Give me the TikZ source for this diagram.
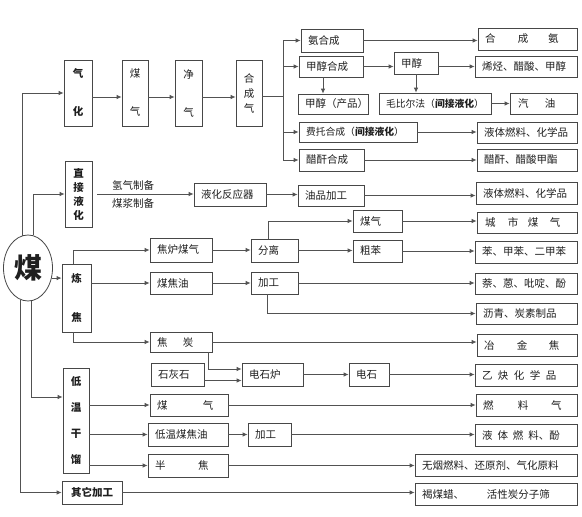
\documentclass[tikz,border=0pt]{standalone}
\usepackage{fontspec}
\setmainfont{Noto Sans CJK SC}
\usetikzlibrary{arrows.meta,shapes.geometric}
\newcommand\mybx[7][]{%
 \pgfmathsetmacro\bxw{#5-#3}%
 \pgfmathsetmacro\bxh{#6-#4}%
 \pgfmathsetmacro\bxt{#5-#3-14}%
 \pgfmathsetmacro\bxcx{(#3+#5)/2}%
 \pgfmathsetmacro\bxcy{(#4+#6)/2}%
 \node[box,minimum width=\bxw pt,minimum height=\bxh pt,#1] (#2) at (\bxcx,\bxcy) {\hbox to \bxt pt{#7\hss}};}
\newcommand\myvbx[7][]{%
 \pgfmathsetmacro\bxw{#5-#3}%
 \pgfmathsetmacro\bxh{#6-#4}%
 \pgfmathsetmacro\bxcx{(#3+#5)/2}%
 \pgfmathsetmacro\bxcy{(#4+#6)/2}%
 \node[box,align=center,minimum width=\bxw pt,minimum height=\bxh pt,#1] (#2) at (\bxcx,\bxcy) {#7};}
\begin{document}
\begin{tikzpicture}[x=1pt,y=-1pt,
  every node/.style={font=\fontsize{10.5}{13}\selectfont,text=black!88},
  box/.style={draw=black!72,line width=0.8pt,inner sep=0pt,fill=white},
  bf/.style={font=\fontsize{10.5}{13}\selectfont\bfseries},
  sm/.style={font=\fontsize{9.8}{12}\selectfont},
  ln/.style={draw=black!68,line width=0.8pt},
  arr/.style={ln,-{Latex[length=5pt,width=4.5pt]}}]
\fill[white] (0,0) rectangle (582,517);
\useasboundingbox (0,0) rectangle (582,517);

% coal
\node[ellipse,draw=black!72,line width=0.8pt,minimum width=49pt,minimum height=66pt,inner sep=0pt,
  font=\fontsize{28}{30}\selectfont\bfseries] (coal) at (28,268) {煤};

% gasification row
\myvbx[bf]{qh}{64}{60}{92}{126}{气\\[25pt]化}
\myvbx{mq}{122}{60}{148}{126}{煤\\[25pt]气}
\myvbx{jq}{175}{60}{202}{126}{净\\[25pt]气}
\myvbx{hcq}{236}{60}{262}{126}{合\\[2pt]成\\[2pt]气}

\mybx{ahc}{301}{29}{363}{52}{氨合成}
\mybx{hca}{478}{28}{577}{50}{合\hspace{22.5pt}成\hspace{19.5pt}氨}
\mybx{jchc}{299}{56}{363}{77}{甲醇合成}
\mybx{jc}{394}{52}{438}{74}{甲醇}
\mybx{xt}{475}{56}{577}{77}{烯烃、醋酸、甲醇}
\mybx{jccp}{298}{94}{368}{114}{甲醇（产品）}
\mybx[sm]{mbef}{379}{93}{491}{114}{毛比尔法（\textbf{间接液化}）}
\mybx{qy}{510}{93}{577}{114}{\hspace{1pt}汽\hspace{16.5pt}油}
\mybx[sm]{ft}{299}{122}{417}{142}{费托合成（\textbf{间接液化}）}
\mybx{ytrla}{477}{122}{577}{143}{液体燃料、化学品}
\mybx{cghc}{299}{149}{364}{171}{醋酐合成}
\mybx{cg}{477}{149}{577}{171}{醋酐、醋酸甲酯}

% direct liquefaction
\myvbx[bf]{zj}{65}{161}{92}{227}{直\\[1pt]接\\[1pt]液\\[1pt]化}
\node (qqzb) at (133,185) {氢气制备};
\node (mjzb) at (133,203) {煤浆制备};
\mybx{yhfy}{194}{183}{266}{206}{液化反应器}
\mybx{ypjg}{298}{185}{364}{206}{油品加工}
\mybx{ytrlb}{476}{182}{577}{204}{液体燃料、化学品}

% coking
\myvbx[bf]{lj}{62}{264}{91}{332}{炼\\[26pt]焦}
\mybx{jlmq}{150}{238}{212}{262}{焦炉煤气}
\mybx{mjy}{150}{272}{212}{294}{煤焦油}
\mybx{fl}{251}{239}{298}{262}{分离}
\mybx{jg}{251}{272}{298}{294}{加工}
\mybx{mqb}{353}{210}{402}{232}{煤气}
\mybx{cb}{353}{240}{402}{262}{粗苯}
\mybx{csmq}{477}{212}{577}{233}{\hspace{1pt}城\hspace{12.5pt}市\hspace{9.5pt}煤\hspace{11.5pt}气}
\mybx{benz}{475}{241}{577}{263}{苯、甲苯、二甲苯}
\mybx{naph}{475}{273}{577}{294}{萘、蒽、吡啶、酚}
\mybx{lq}{476}{303}{577}{324}{沥青、炭素制品}
\mybx{jt}{150}{332}{212}{352}{焦\hspace{15.5pt}炭}
\mybx{yjj}{477}{334}{577}{356}{冶\hspace{22.5pt}金\hspace{21.5pt}焦}
\mybx{shs}{151}{363}{204}{386}{石灰石}
\mybx{dsl}{242}{363}{303}{386}{电石炉}
\mybx{ds}{349}{363}{389}{386}{电石}
\mybx{yq}{475}{364}{577}{386}{乙\hspace{5.5pt}炔\hspace{5.5pt}化\hspace{5.5pt}学\hspace{5.5pt}品}

% low temperature carbonization
\myvbx[bf]{dw}{63}{368}{89}{473}{低\\[13pt]温\\[13pt]干\\[13pt]馏}
\mybx{mqc}{150}{394}{228}{416}{煤\hspace{35.5pt}气}
\mybx{rlq}{476}{394}{577}{416}{燃\hspace{24.5pt}料\hspace{22.5pt}气}
\mybx{dwmjy}{148}{423}{228}{446}{低温煤焦油}
\mybx{jgb}{248}{423}{291}{446}{加工}
\mybx{ytrlf}{475}{424}{577}{446}{液\hspace{5pt}体\hspace{5pt}燃\hspace{5pt}料、酚}
\mybx{bj}{148}{454}{228}{477}{半\hspace{32.5pt}焦}
\mybx{wy}{415}{454}{577}{476}{无烟燃料、还原剂、气化原料}

% other
\myvbx[bf]{qt}{62}{481}{122}{504}{其它加工}
\mybx{hmj}{415}{483}{577}{505}{褐煤蜡、\hspace{23pt}活性炭分子筛}

% ---------- connectors ----------
\coordinate (busT) at (283,40);
\coordinate (busB) at (283,160);
\coordinate (ydw) at (0,397);
\coordinate (hcqo) at ([yshift=-3pt]hcq.east);

\draw[arr] (coal.100) |- (qh.west);
\draw[arr] (coal.81) |- (zj.west);
\draw[arr] (coal.-23) -- (coal.-23 -| lj.west);
\draw[arr] (coal.275) |- (dw.west |- ydw);
\draw[arr] (coal.256) |- (qt.west);

\draw[arr] ([yshift=-4pt]qh.east) -- ([yshift=-4pt]mq.west);
\draw[arr] ([yshift=-4pt]mq.east) -- ([yshift=-4pt]jq.west);
\draw[arr] ([yshift=-4pt]jq.east) -- ([yshift=-4pt]hcq.west);
\draw[ln] (hcqo) -- (hcqo -| busT);
\draw[ln] (busT) -- (busB);
\draw[arr] (ahc.west -| busT) -- (ahc.west);
\draw[arr] (jchc.west -| busT) -- (jchc.west);
\draw[arr] (ft.west -| busT) -- (ft.west);
\draw[arr] (cghc.west -| busT) -- (cghc.west);

\draw[arr] (ahc.east) -- (ahc.east -| hca.west);
\draw[arr] (jchc.east) -- (jchc.east -| jc.west);
\draw[arr] (xt.west -| jc.east) -- (xt.west);
\draw[arr] ([xshift=-8pt]jchc.south) -- ([xshift=-8pt]jchc.south |- jccp.north);
\draw[arr] (jc.south) -- (jc.south |- mbef.north);
\draw[arr] (mbef.east) -- (mbef.east -| qy.west);
\draw[arr] (ft.east) -- (ft.east -| ytrla.west);
\draw[arr] (cghc.east) -- (cghc.east -| cg.west);

\draw[arr] ([xshift=5pt]zj.east) -- (zj.east -| yhfy.west);
\draw[arr] (yhfy.east) -- (yhfy.east -| ypjg.west);
\draw[arr] (ypjg.east) -- (ypjg.east -| ytrlb.west);

\draw[arr] ([xshift=-3pt]lj.north) |- (jlmq.west);
\draw[arr] (mjy.west -| lj.east) -- (mjy.west);
\draw[arr] ([xshift=-3pt]lj.south) |- (jt.west);
\draw[arr] (jlmq.east) -- (jlmq.east -| fl.west);
\draw[arr] (mjy.east) -- (mjy.east -| jg.west);
\draw[arr] ([xshift=-6.5pt]fl.north) |- (mqb.west);
\draw[arr] (fl.east) -- (fl.east -| cb.west);
\draw[arr] (mqb.east) -- (mqb.east -| csmq.west);
\draw[arr] (cb.east) -- (cb.east -| benz.west);
\draw[arr] (jg.east) -- (jg.east -| naph.west);
\draw[arr] ([xshift=-7.5pt]jg.south) |- (lq.west);
\draw[arr] (jt.east) -- (jt.east -| yjj.west);
\draw[arr] ([xshift=27pt]jt.south) |- ([yshift=5.5pt]dsl.west);
\draw[arr] ([yshift=-6pt]shs.east) -- ([yshift=-6pt]dsl.west);
\draw[arr] (dsl.east) -- (dsl.east -| ds.west);
\draw[arr] (ds.east) -- (ds.east -| yq.west);

\draw[arr] (mqc.west -| dw.east) -- (mqc.west);
\draw[arr] (dwmjy.west -| dw.east) -- (dwmjy.west);
\draw[arr] (bj.west -| dw.east) -- (bj.west);
\draw[arr] (mqc.east) -- (mqc.east -| rlq.west);
\draw[arr] (dwmjy.east) -- (dwmjy.east -| jgb.west);
\draw[arr] (jgb.east) -- (jgb.east -| ytrlf.west);
\draw[arr] (bj.east) -- (bj.east -| wy.west);
\draw[arr] (qt.east) -- (qt.east -| hmj.west);
\end{tikzpicture}
\end{document}
